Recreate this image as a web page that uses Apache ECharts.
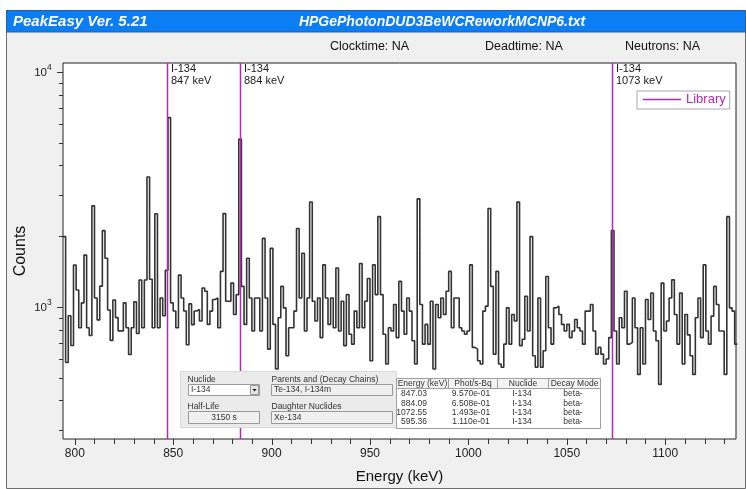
<!DOCTYPE html>
<html>
<head>
<meta charset="utf-8">
<script src="https://cdn.jsdelivr.net/npm/echarts@6/dist/echarts.min.js"></script>
<style>
  html, body { margin: 0; padding: 0; background: #ffffff; }
  #chart { width: 746px; height: 489px; }
</style>
</head>
<body>
<div id="chart"></div>
<script>
// ---- spectrum calibration (low edge of first bin and bin width, keV) ----
const binStart = 794;
const binWidth = 4 / 3;

// ---- counts per bin ----
const counts = [
  1990, 580, 916, 685, 1505, 1180, 815, 1040, 1660, 815, 755, 2690, 1090, 880, 1225, 2110,
  1610, 970, 720, 1070, 900, 790, 790, 1040, 815, 627, 815, 1050, 770, 1300, 815, 1300,
  3570, 1310, 815, 2490, 815, 1090, 916, 1430, 6380,
  1040, 960, 815, 1365, 1090, 960, 690, 1030, 840, 960,
  975, 870, 1203, 1165, 842, 959, 1074, 1091, 815, 1415, 2493, 1057, 1057, 1262, 928, 1127, 5170,
  1222, 842, 1610, 1091, 789, 1091, 1091, 789, 1955, 1091, 661, 1774, 842, 544, 899, 1222,
  990, 619, 815, 815, 959, 2154, 1091, 1690, 789, 1091, 2793, 1057, 870, 1091, 740, 1509,
  1091, 842, 1091,
  815, 1462, 789, 1057, 684, 1127, 765, 694, 959, 815, 1530, 815, 1057, 1320, 590, 1509, 1127,
  2420,
  1127, 765, 571, 815, 789, 1023, 740, 1283, 959, 765, 1091, 959, 717, 571,
  2880,
  1023, 694, 842, 694, 1057, 544, 1023, 899, 1091, 928, 1165, 1415, 815, 1091, 1091, 815, 789, 765,
  789, 1509, 672, 661, 590, 571, 959, 1007, 2620, 1222, 629, 1415, 571, 553, 694, 990,
  694, 928, 870, 2790, 684, 728, 1109, 789, 1990, 619, 553, 1091, 553, 650, 1347, 815,
  694, 990, 1007, 928, 842, 789, 842, 740, 789, 884, 815, 789, 694, 959, 959, 1023,
  789, 629, 672,
  629, 571, 600, 740, 2110,
  789, 571, 899, 815, 1165, 694, 706, 1091, 815, 516, 815, 571, 1074, 884, 1146, 789,
  717, 468, 1262, 789, 870, 1091, 1303, 928, 694, 1146, 571, 928, 760, 619, 516, 899,
  1091, 740, 1509,
  789, 694, 913, 1222, 1023, 789, 789, 516, 2420, 990, 959, 694
];

// ---- library lines ----
const libraryEnergies = [847, 884, 1073];
const libraryNuclides = ['I-134', 'I-134', 'I-134'];

// ---- axes ----
const xMin = 794, xMax = 1136;
const yMin = 274, yMax = 10900;
const xLabelValues = [800, 850, 900, 950, 1000, 1050, 1100];
const xTickValues = [800, 810, 820, 830, 840, 850, 860, 870, 880, 890, 900, 910, 920, 930, 940, 950,
  960, 970, 980, 990, 1000, 1010, 1020, 1030, 1040, 1050, 1060, 1070, 1080, 1090, 1100, 1110, 1120, 1130];
const yMajorTicks = [1000, 10000];
const yMinorTicks = [300, 400, 500, 600, 700, 800, 900, 2000, 3000, 4000, 5000, 6000, 7000, 8000, 9000];

// ---- header / info panel text ----
const appTitle = 'PeakEasy Ver. 5.21';
const fileName = 'HPGePhotonDUD3BeWCReworkMCNP6.txt';
const statusItems = ['Clocktime: NA', 'Deadtime: NA', 'Neutrons: NA'];
const tableHeaders = ['Energy (keV)', 'Phot/s-Bq', 'Nuclide', 'Decay Mode'];
const tableEnergy = ['847.03', '884.09', '1072.55', '595.36'];
const tablePhot = ['9.570e-01', '6.508e-01', '1.493e-01', '1.110e-01'];
const tableNuclide = ['I-134', 'I-134', 'I-134', 'I-134'];
const tableMode = ['beta-', 'beta-', 'beta-', 'beta-'];

const PURPLE = '#b02ab6';
const FONT = '"Liberation Sans", Arial, sans-serif';

// step histogram points: left edge of every bin plus the closing edge
const spectrum = counts.map((c, k) => [binStart + k * binWidth, c]);
spectrum.push([binStart + counts.length * binWidth, counts[counts.length - 1]]);

const chart = echarts.init(document.getElementById('chart'), null, { renderer: 'canvas' });

// header bar, status row and the nuclide info panel
const graphics = [
  { type: 'rect', z: -10, shape: { x: 6.5, y: 10.5, width: 739, height: 478 },
    style: { fill: '#f0f0f0', stroke: '#6e6e6e', lineWidth: 1 } },
  { type: 'rect', z: -9, shape: { x: 6.5, y: 10.5, width: 739, height: 21.5 },
    style: { fill: '#0b7df5', stroke: '#2c5d9c', lineWidth: 1 } },
  { type: 'text', z: -8, x: 13, y: 22, style: { text: appTitle, fill: '#ffffff',
    font: 'italic bold 15px ' + FONT, verticalAlign: 'middle' } },
  { type: 'text', z: -8, x: 442, y: 22, style: { text: fileName, fill: '#ffffff',
    font: 'italic bold 14px ' + FONT, align: 'center', verticalAlign: 'middle' } },
  { type: 'text', z: -8, x: 330, y: 47, style: { text: statusItems[0], fill: '#111', font: '12.5px ' + FONT, verticalAlign: 'middle' } },
  { type: 'text', z: -8, x: 485, y: 47, style: { text: statusItems[1], fill: '#111', font: '12.5px ' + FONT, verticalAlign: 'middle' } },
  { type: 'text', z: -8, x: 625, y: 47, style: { text: statusItems[2], fill: '#111', font: '12.5px ' + FONT, verticalAlign: 'middle' } }
];

const small = '8.5px ' + FONT;
function label(x, y, text, align) {
  return { type: 'text', z: 100, x: x, y: y,
    style: { text: text, fill: '#333', font: small, align: align || 'left', verticalAlign: 'middle' } };
}
function box(x, y, w, h, fill) {
  return { type: 'rect', z: 100, shape: { x: x, y: y, width: w, height: h },
    style: { fill: fill, stroke: '#9a9a9a', lineWidth: 1 } };
}
// left part of the panel
graphics.push(
  { type: 'rect', z: 100, shape: { x: 180.5, y: 371.5, width: 216, height: 56 },
    style: { fill: '#ebebeb', stroke: '#dadada', lineWidth: 1 } },
  label(187.5, 379.5, 'Nuclide'),
  box(188.5, 384.5, 71, 11, '#ffffff'),
  label(191, 390, tableNuclide[0]),
  box(250.5, 385.5, 8, 9, '#e4e4e4'),
  { type: 'polygon', z: 101, shape: { points: [[252.5, 389], [256.5, 389], [254.5, 391.5]] }, style: { fill: '#111' } },
  label(187.5, 406.5, 'Half-Life'),
  box(188.5, 411.5, 71, 12, '#f0f0f0'),
  label(224, 417.5, '3150 s', 'center'),
  label(271.5, 379.5, 'Parents and (Decay Chains)'),
  box(271.5, 384.5, 121, 11, '#f0f0f0'),
  label(274, 390, 'Te-134, I-134m'),
  label(271.5, 406.5, 'Daughter Nuclides'),
  box(271.5, 411.5, 121, 12, '#f0f0f0'),
  label(274, 417.5, 'Xe-134')
);
// line table
const colEdges = [396.5, 448.5, 497.5, 548.5, 600.5];
graphics.push(
  { type: 'rect', z: 100, shape: { x: 396.5, y: 378.5, width: 204, height: 50 },
    style: { fill: '#ffffff', stroke: '#a0a0a0', lineWidth: 1 } },
  { type: 'rect', z: 100, shape: { x: 396.5, y: 378.5, width: 204, height: 10 },
    style: { fill: '#f3f3f3', stroke: '#a0a0a0', lineWidth: 1 } }
);
for (let c = 1; c < colEdges.length - 1; c++) {
  graphics.push({ type: 'line', z: 101, shape: { x1: colEdges[c], y1: 378.5, x2: colEdges[c], y2: 388.5 },
    style: { stroke: '#a0a0a0', lineWidth: 1 } });
}
tableHeaders.forEach((h, c) => {
  graphics.push(label((colEdges[c] + colEdges[c + 1]) / 2, 383.5, h, 'center'));
});
const rowY = [394, 403.5, 413, 422];
for (let r = 0; r < tableEnergy.length; r++) {
  graphics.push(
    label(427, rowY[r], tableEnergy[r], 'right'),
    label(471, rowY[r], tablePhot[r], 'center'),
    label(522, rowY[r], tableNuclide[r], 'center'),
    label(573, rowY[r], tableMode[r], 'center')
  );
}

const option = {
  animation: false,
  backgroundColor: '#ffffff',
  textStyle: { fontFamily: FONT },
  grid: {
    show: true, left: 63, top: 63, width: 673, height: 379,
    backgroundColor: '#ffffff', borderColor: '#222', borderWidth: 1
  },
  legend: {
    data: ['Library'], left: 637, top: 91, selectedMode: false,
    icon: 'rect', itemWidth: 38, itemHeight: 1.5, itemGap: 0,
    padding: [2, 4, 3, 6], borderColor: '#a8a8a8', borderWidth: 1, backgroundColor: '#ffffff',
    textStyle: { color: PURPLE, fontSize: 13, fontFamily: FONT }
  },
  xAxis: {
    type: 'value', min: xMin, max: xMax,
    name: 'Energy (keV)', nameLocation: 'middle', nameGap: 30,
    nameTextStyle: { color: '#111', fontSize: 15, fontFamily: FONT },
    axisLine: { show: false }, axisTick: { show: false }, splitLine: { show: false },
    axisLabel: { customValues: xLabelValues, color: '#222', fontSize: 12, margin: 9, fontFamily: FONT,
      formatter: v => String(Math.round(v)) }
  },
  yAxis: {
    type: 'log', min: yMin, max: yMax, logBase: 10,
    name: 'Counts', nameLocation: 'middle', nameGap: 34,
    nameTextStyle: { color: '#111', fontSize: 16, fontFamily: FONT },
    axisLine: { show: false }, axisTick: { show: false }, splitLine: { show: false },
    axisLabel: { show: false }
  },
  series: [
    {
      name: 'Spectrum', type: 'line', step: 'end', data: spectrum,
      showSymbol: false, symbol: 'none', clip: true, z: 3, silent: true,
      lineStyle: { color: '#333333', width: 1.6 }
    },
    {
      name: 'Library', type: 'custom', z: 4, silent: true,
      itemStyle: { color: PURPLE },
      data: libraryEnergies.map((e, i) => [e, yMax, i]),
      renderItem: function (params, api) {
        const top = api.coord([api.value(0), yMax]);
        const bot = api.coord([api.value(0), yMin]);
        const i = api.value(2);
        const x = Math.round(top[0]) + 0.5;
        return {
          type: 'group',
          children: [
            { type: 'line', shape: { x1: x, y1: top[1], x2: x, y2: bot[1] },
              style: { stroke: PURPLE, lineWidth: 1.5 } },
            { type: 'text', x: x + 3.5, y: top[1] + 0.5,
              style: { text: libraryNuclides[i] + '\n' + libraryEnergies[i] + ' keV',
                fill: '#1a1a1a', font: '11px ' + FONT, lineHeight: 11.5, verticalAlign: 'top' } }
          ]
        };
      }
    },
    {
      name: 'xticks', type: 'custom', z: 5, silent: true, clip: false,
      data: xTickValues.map(v => [v, yMin, xLabelValues.includes(v) ? 1 : 0]),
      renderItem: function (params, api) {
        const p = api.coord([api.value(0), api.value(1)]);
        const len = api.value(2) === 1 ? 6 : 5;
        const x = Math.round(p[0]) + 0.5;
        return { type: 'line', shape: { x1: x, y1: p[1], x2: x, y2: p[1] + len },
          style: { stroke: '#333', lineWidth: 1 } };
      }
    },
    {
      name: 'yticks', type: 'custom', z: 5, silent: true, clip: false,
      data: yMajorTicks.map(v => [xMin, v, 1]).concat(yMinorTicks.map(v => [xMin, v, 0])),
      renderItem: function (params, api) {
        const p = api.coord([api.value(0), api.value(1)]);
        const major = api.value(2) === 1;
        const len = major ? 6 : 4;
        const y = Math.round(p[1]) + 0.5;
        const children = [{ type: 'line', shape: { x1: p[0] - len, y1: y, x2: p[0], y2: y },
          style: { stroke: '#333', lineWidth: 1 } }];
        if (major) {
          const exp = Math.round(Math.log10(api.value(1)));
          children.push(
            { type: 'text', x: p[0] - 16, y: y,
              style: { text: '10', fill: '#222', font: '11.5px ' + FONT, align: 'right', verticalAlign: 'middle' } },
            { type: 'text', x: p[0] - 16, y: y - 5,
              style: { text: String(exp), fill: '#222', font: '8.5px ' + FONT, align: 'left', verticalAlign: 'middle' } }
          );
        }
        return { type: 'group', children: children };
      }
    }
  ],
  graphic: { elements: graphics }
};

chart.setOption(option);
</script>
</body>
</html>
